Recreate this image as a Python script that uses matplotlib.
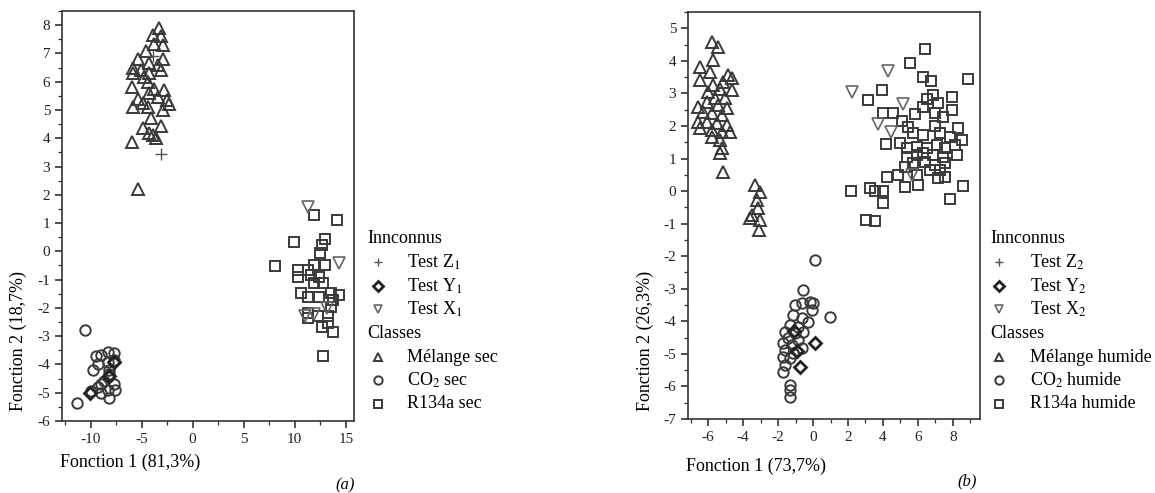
import matplotlib
matplotlib.use("Agg")
import matplotlib.pyplot as plt
from matplotlib.lines import Line2D
from matplotlib.ticker import MultipleLocator

plt.rcParams["font.family"] = ["Liberation Serif", "DejaVu Serif"]
plt.rcParams["mathtext.fontset"] = "stix"
plt.rcParams["axes.unicode_minus"] = False

# ---- panel (a): dry samples ----
melange_sec_x = [-3.3, -3.9, -3.1, -3.8, -2.9, -4.6, -2.9, -5.4, -4.3, -3.4, -5.8, -5.1, -3.1,
                 -5.8, -4.3, -4.8, -5.9, -4.4, -3.8, -2.8, -4.3, -3.4, -5.4, -2.5, -4.9, -2.3,
                 -5.8, -4.4, -2.9, -4.1, -3.1, -4.9, -4.3, -3.9, -3.6, -5.9, -5.4]
melange_sec_y = [7.9, 7.65, 7.6, 7.35, 7.3, 7.1, 6.8, 6.8, 6.65, 6.6, 6.5, 6.4, 6.4,
                 6.3, 6.3, 6.15, 5.8, 6.0, 5.75, 5.7, 5.6, 5.45, 5.4, 5.35, 5.25, 5.2,
                 5.1, 5.1, 5.0, 4.7, 4.45, 4.35, 4.2, 4.1, 4.0, 3.85, 2.2]
co2_sec_x = [-10.5, -11.3, -9.0, -8.3, -7.7, -9.5, -9.3, -8.3, -7.7, -9.8, -8.2, -8.3, -8.2,
             -9.0, -7.7, -10.0, -8.3, -9.0, -8.2, -8.7, -9.3, -7.6]
co2_sec_y = [-2.78, -5.36, -3.66, -3.55, -3.6, -3.7, -4.0, -3.9, -3.85, -4.2, -4.2, -4.45, -4.35,
             -4.7, -4.7, -4.95, -4.9, -5.0, -5.2, -4.6, -4.8, -4.9]
r134a_sec_x = [11.9, 14.1, 9.9, 13.0, 12.7, 8.1, 10.3, 10.3, 11.3, 11.9, 12.5, 13.0, 11.6, 12.4,
               11.9, 12.8, 10.6, 11.3, 12.4, 13.5, 14.3, 13.7, 13.5, 11.3, 12.3, 13.3, 11.3,
               12.7, 13.7, 13.3, 12.8]
r134a_sec_y = [1.29, 1.1, 0.33, 0.44, 0.23, -0.52, -0.66, -0.9, -0.66, -0.48, -0.06, -0.48, -0.83,
               -0.9, -1.12, -1.12, -1.47, -1.6, -1.6, -1.47, -1.54, -1.72, -1.96, -2.35, -2.3,
               -2.3, -2.18, -2.67, -2.85, -2.53, -3.7]
test_z1_x = [-3.1, -3.9]
test_z1_y = [3.45, 6.9]
test_y1_x = [-10.1, -8.2, -7.7]
test_y1_y = [-5.0, -4.4, -3.9]
test_x1_x = [11.3, 14.3, 13.2, 11.9, 11.0]
test_x1_y = [1.57, -0.4, -2.0, -2.2, -2.3]

# ---- panel (b): humid samples ----
melange_hum_x = [-5.77, -5.43, -5.71, -6.46, -5.89, -6.46, -4.86, -4.63, -5.14, -5.71, -5.31, -4.63,
                 -6.0, -5.6, -5.03, -6.06, -6.57, -5.43, -4.91, -6.29, -5.77, -5.2, -6.57, -6.06,
                 -5.49, -4.91, -6.46, -5.77, -5.2, -4.74, -5.77, -5.31, -5.2, -5.31, -5.14,
                 -3.31, -3.03, -3.2, -3.14, -3.49, -3.03, -3.6, -3.09]
melange_hum_y = [4.57, 4.42, 4.02, 3.8, 3.65, 3.4, 3.56, 3.46, 3.34, 3.25, 3.15, 3.1,
                 3.04, 2.85, 2.85, 2.74, 2.58, 2.64, 2.55, 2.43, 2.39, 2.33, 2.12, 2.12,
                 2.09, 2.02, 1.93, 1.87, 1.81, 1.81, 1.66, 1.56, 1.32, 1.16, 0.58,
                 0.18, -0.03, -0.28, -0.52, -0.74, -0.89, -0.83, -1.2]
co2_hum_x = [0.11, -0.57, 0.97, -1.03, -0.63, -0.17, 0.0, -0.06, -1.14, -0.63, -0.29, -1.31,
             -0.86, -1.6, -1.03, -0.57, -1.43, -0.86, -1.71, -1.2, -0.63, -1.6, -1.14, -1.71,
             -1.31, -1.6, -1.71, -1.31, -1.31, -1.31]
co2_hum_y = [-2.12, -3.04, -3.86, -3.5, -3.44, -3.41, -3.44, -3.65, -3.8, -3.9, -4.02, -4.11,
             -4.17, -4.33, -4.36, -4.33, -4.51, -4.57, -4.66, -4.72, -4.82, -4.88, -4.97, -5.09,
             -5.12, -5.34, -5.55, -5.95, -6.1, -6.32]
r134a_hum_x = [6.4, 5.54, 8.86, 6.29, 6.74, 3.94, 3.14, 6.86, 7.94, 6.51, 7.14, 4.0, 4.57, 5.83,
               6.29, 6.97, 7.43, 7.94, 5.09, 5.43, 6.97, 8.29, 5.71, 6.29, 7.26, 7.83, 8.51,
               4.17, 4.97, 5.37, 5.94, 6.51, 7.09, 7.54, 8.11, 5.37, 5.94, 6.29, 6.86, 7.43,
               8.23, 5.71, 6.4, 6.97, 7.54, 5.26, 6.69, 7.26, 4.86, 4.23, 5.94, 7.14, 7.54,
               8.57, 2.17, 3.26, 3.54, 4.0, 5.26, 6.0, 4.0, 7.83, 3.03, 3.54]
r134a_hum_y = [4.36, 3.93, 3.44, 3.5, 3.37, 3.1, 2.79, 2.94, 2.88, 2.82, 2.7, 2.39, 2.39, 2.36,
               2.58, 2.39, 2.27, 2.48, 2.15, 1.96, 1.99, 1.93, 1.78, 1.72, 1.78, 1.66, 1.56,
               1.44, 1.47, 1.32, 1.35, 1.32, 1.41, 1.32, 1.41, 1.04, 1.1, 1.17, 1.1, 1.04,
               1.1, 0.86, 0.89, 0.8, 0.86, 0.74, 0.64, 0.64, 0.49, 0.43, 0.49, 0.4, 0.43,
               0.15, 0.0, 0.09, 0.0, 0.0, 0.12, 0.18, -0.37, -0.25, -0.89, -0.92]
test_z2_x = []
test_z2_y = []
test_y2_x = [0.11, -0.74, -1.1, -0.9]
test_y2_y = [-4.66, -5.4, -4.3, -4.9]
test_x2_x = [4.29, 2.23, 5.14, 3.71, 4.46, 5.66]
test_x2_y = [3.68, 3.04, 2.67, 2.06, 1.81, 0.49]

EC = "#3a3a3a"
styles = {
    "tri": dict(marker="^", ms=8, mfc="none", mec=EC, mew=1.4, ls="none"),
    "circ": dict(marker="o", ms=7.5, mfc="none", mec=EC, mew=1.4, ls="none"),
    "sq": dict(marker="s", ms=6.5, mfc="none", mec=EC, mew=1.4, ls="none"),
    "plus": dict(marker="+", ms=8, mec="#555555", mew=1.0, ls="none"),
    "diam": dict(marker="D", ms=6.5, mfc="none", mec="#222222", mew=2.0, ls="none"),
    "vtri": dict(marker="v", ms=8, mfc="none", mec="#666666", mew=1.2, ls="none"),
}

fig = plt.figure(figsize=(11.55, 4.93), dpi=100)
ax1 = fig.add_axes([62 / 1155, 1 - 421 / 493, 292 / 1155, 410 / 493])
ax2 = fig.add_axes([688 / 1155, 1 - 419 / 493, 292 / 1155, 407 / 493])

ax1.plot(melange_sec_x, melange_sec_y, **styles["tri"])
ax1.plot(co2_sec_x, co2_sec_y, **styles["circ"])
ax1.plot(r134a_sec_x, r134a_sec_y, **styles["sq"])
ax1.plot(test_z1_x, test_z1_y, **styles["plus"])
ax1.plot(test_y1_x, test_y1_y, **styles["diam"])
ax1.plot(test_x1_x, test_x1_y, **styles["vtri"])
ax1.set_xlim(-12.8, 15.8)
ax1.set_ylim(-6, 8.5)
ax1.xaxis.set_major_locator(MultipleLocator(5))
ax1.xaxis.set_minor_locator(MultipleLocator(2.5))
ax1.yaxis.set_major_locator(MultipleLocator(1))
ax1.yaxis.set_minor_locator(MultipleLocator(0.5))

ax2.plot(melange_hum_x, melange_hum_y, **styles["tri"])
ax2.plot(co2_hum_x, co2_hum_y, **styles["circ"])
ax2.plot(r134a_hum_x, r134a_hum_y, **styles["sq"])
ax2.plot(test_z2_x, test_z2_y, **styles["plus"])
ax2.plot(test_y2_x, test_y2_y, **styles["diam"])
ax2.plot(test_x2_x, test_x2_y, **styles["vtri"])
ax2.set_xlim(-7.15, 9.55)
ax2.set_ylim(-7, 5.5)
ax2.xaxis.set_major_locator(MultipleLocator(2))
ax2.xaxis.set_minor_locator(MultipleLocator(1))
ax2.yaxis.set_major_locator(MultipleLocator(1))
ax2.yaxis.set_minor_locator(MultipleLocator(0.5))

for ax in (ax1, ax2):
    for sp in ax.spines.values():
        sp.set_linewidth(1.2)
        sp.set_color("#333333")
    ax.tick_params(which="major", direction="out", length=5, width=1.1, labelsize=11,
                   colors="#222222")
    ax.tick_params(which="minor", direction="out", length=3, width=0.9, colors="#333333")

fig.text(60 / 1155, 1 - 462 / 493, "Fonction 1 (81,3%)", fontsize=13, va="center", ha="left")
fig.text(18 / 1155, 1 - 341 / 493, "Fonction 2 (18,7%)", fontsize=13, rotation=90,
         va="center", ha="center")
fig.text(686 / 1155, 1 - 466 / 493, "Fonction 1 (73,7%)", fontsize=13, va="center", ha="left")
fig.text(645 / 1155, 1 - 341 / 493, "Fonction 2 (26,3%)", fontsize=13, rotation=90,
         va="center", ha="center")
fig.text(345 / 1155, 1 - 485 / 493, "(a)", fontsize=12, style="italic", ha="center", va="center")
fig.text(967 / 1155, 1 - 481 / 493, "(b)", fontsize=12, style="italic", ha="center", va="center")

# hand-made legends (headers without markers)
rows = [238, 262, 286, 309, 333, 357, 380, 404]


def draw_legend(hx, mx, tx, idx, cls_suffix):
    entries = [
        (None, "Innconnus"),
        ("plus", r"Test Z$_{%s}$" % idx),
        ("diam", r"Test Y$_{%s}$" % idx),
        ("vtri", r"Test X$_{%s}$" % idx),
        (None, "Classes"),
        ("tri", "Mélange " + cls_suffix),
        ("circ", r"CO$_2$ " + cls_suffix),
        ("sq", "R134a " + cls_suffix),
    ]
    for (key, label), py in zip(entries, rows):
        fy = 1 - py / 493
        if key is None:
            fig.text(hx / 1155, fy, label, fontsize=13, va="center", ha="left")
        else:
            st = dict(styles[key])
            st["ms"] = st["ms"] * 0.8
            fig.add_artist(Line2D([mx / 1155], [fy], transform=fig.transFigure, **st))
            fig.text(tx / 1155, fy, label, fontsize=13, va="center", ha="left")


draw_legend(367, 378, 407, "1", "sec")
draw_legend(990, 999, 1030, "2", "humide")

fig.savefig("out.png", dpi=100)
